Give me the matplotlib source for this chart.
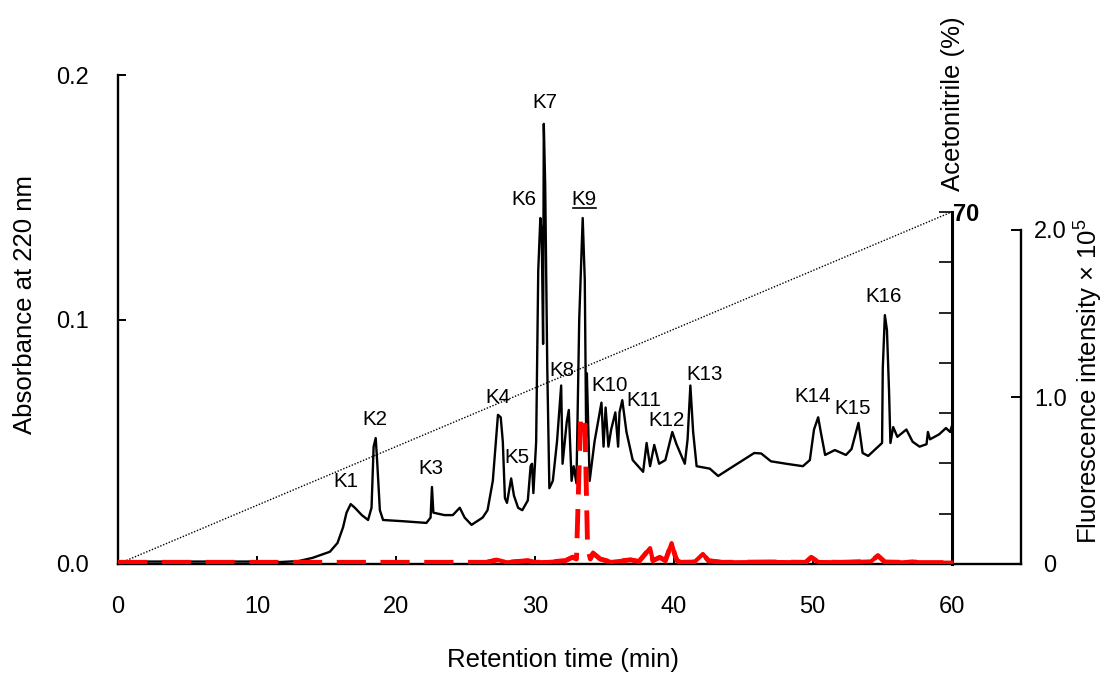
import numpy as np
import matplotlib
matplotlib.use("Agg")
import matplotlib.pyplot as plt
from matplotlib.lines import Line2D

plt.rcParams['font.family'] = ['Liberation Sans', 'DejaVu Sans']
plt.rcParams['mathtext.fontset'] = 'custom'
plt.rcParams['mathtext.rm'] = 'Liberation Sans'
plt.rcParams['mathtext.it'] = 'Liberation Sans:italic'

# ---------------- data ----------------
abs_time = [0, 5, 10, 11.65, 13.0, 14.0, 15.25, 15.8, 16.2, 16.45, 16.75, 17.05, 17.55, 18.0,
            18.25, 18.4, 18.55, 18.65, 18.85, 19.08, 20.5, 22.2, 22.5, 22.6, 22.7, 23.5, 24.1,
            24.6, 24.95, 25.45, 26.25, 26.6, 26.98, 27.2, 27.35, 27.55, 27.7, 27.85, 28.0, 28.3,
            28.5, 28.8, 29.1, 29.5, 29.7, 29.8, 29.9, 30.1,
            30.25, 30.4, 30.5, 30.6, 30.65, 30.75, 30.9, 31.05, 31.3, 31.6, 31.9, 32.0, 32.3,
            32.45, 32.65, 32.8, 33.0, 33.2, 33.45, 33.6, 33.7, 33.75, 33.95, 34.3, 34.8, 34.95,
            35.1, 35.3, 35.5, 35.8, 36.0, 36.1, 36.3, 36.6, 37.05, 37.8, 38.05, 38.3, 38.6,
            38.95, 39.4, 39.9, 40.2, 40.8, 41.0, 41.2, 41.4, 41.65, 42.6, 43.2, 44.3, 45.8,
            46.3, 47.0, 48.1, 49.3, 49.8, 50.1, 50.4, 50.6, 50.9, 51.6, 52.4, 52.8, 53.3, 53.6,
            54.0, 55.0, 55.05, 55.2, 55.35, 55.5, 55.6, 55.8, 56.1, 56.75, 57.2, 57.7, 58.2,
            58.3, 58.45, 59.1, 59.6, 59.9, 60]
abs_vals = [0.001, 0.001, 0.001, 0.0008, 0.0012, 0.0025, 0.005, 0.0086, 0.015, 0.021, 0.0245,
            0.023, 0.020, 0.018, 0.023, 0.048, 0.0515, 0.0425, 0.022, 0.018, 0.0175, 0.0168,
            0.019, 0.0315, 0.021, 0.020, 0.020, 0.023, 0.019, 0.016, 0.019, 0.022, 0.034, 0.050,
            0.061, 0.060, 0.050, 0.027, 0.025,
            0.035, 0.028, 0.023, 0.022, 0.026, 0.040, 0.041, 0.029, 0.050, 0.120, 0.1415, 0.135,
            0.090, 0.180, 0.155, 0.080, 0.031, 0.034, 0.050, 0.073, 0.041, 0.058, 0.063, 0.034,
            0.040, 0.033, 0.100, 0.1415, 0.116, 0.052, 0.078, 0.034, 0.050, 0.066, 0.048, 0.064,
            0.048, 0.055, 0.062, 0.048, 0.062, 0.067, 0.054, 0.0425, 0.0377, 0.0495, 0.040,
            0.0487, 0.041, 0.0425, 0.054, 0.049, 0.041, 0.051, 0.073, 0.054, 0.040, 0.039,
            0.036, 0.040, 0.0454, 0.0452, 0.042, 0.041, 0.040, 0.0425, 0.055, 0.060, 0.0536,
            0.0446, 0.0466, 0.0446, 0.047, 0.0577, 0.0454, 0.0442, 0.0495, 0.080, 0.1018,
            0.0957, 0.071, 0.0495, 0.056, 0.052, 0.055, 0.050, 0.048, 0.049, 0.054, 0.051,
            0.053, 0.0556, 0.054, 0.056]

fl_time = [0, 10, 20, 26.5, 27.3, 28.0, 29.5, 30.0, 31.0, 32.2, 32.7, 33.0, 33.3, 33.6, 33.8,
           34.0, 34.2, 34.7, 35.5, 36.9, 37.5, 38.3, 38.5, 39.0, 39.4, 39.85, 40.1, 40.25, 40.5,
           41.5, 42.1, 42.5, 43.5, 47.0, 49.5, 49.9, 50.4, 52.0, 54.2, 54.7, 55.2, 56.5, 57.2,
           57.6, 60]
fl_vals = [0.01, 0.01, 0.01, 0.01, 0.025, 0.01, 0.02, 0.01, 0.012, 0.02, 0.04, 0.03, 0.88, 0.88,
           0.10, 0.03, 0.065, 0.03, 0.012, 0.025, 0.015, 0.095, 0.02, 0.04, 0.02, 0.125, 0.05,
           0.02, 0.01, 0.012, 0.06, 0.02, 0.01, 0.012, 0.01, 0.04, 0.012, 0.01, 0.015, 0.05,
           0.012, 0.01, 0.015, 0.008, 0.008]

grad_time = [0, 60]
grad_acn = [0, 70]

peak_names = ['K1', 'K2', 'K3', 'K4', 'K5', 'K6', 'K7', 'K8', 'K9', 'K10', 'K11', 'K12',
              'K13', 'K14', 'K15', 'K16']
peak_label_t = [16.4, 18.5, 22.5, 27.34, 28.7, 29.24, 30.72, 31.98, 33.56, 35.4, 37.88, 39.46,
                42.2, 50.0, 52.9, 55.1]
peak_label_a = [0.0339, 0.0589, 0.0389, 0.068, 0.0436, 0.149, 0.1888, 0.0793, 0.149,
                0.073, 0.067, 0.0587, 0.0775, 0.0687, 0.0634, 0.1096]
underlined = ['K9']

x_ticks = [0, 10, 20, 30, 40, 50, 60]
y_ticks = [0.0, 0.1, 0.2]
y_ticklabels = ['0.0', '0.1', '0.2']
acn_ticks = [0, 10, 20, 30, 40, 50, 60, 70]
fl_ticks = [0, 1, 2]
fl_ticklabels = ['0', '1.0', '2.0']

# ---------------- figure ----------------
W, H = 1107, 678
fig = plt.figure(figsize=(W / 100, H / 100), dpi=100)
L, R, B, T = 118, 1021, 564, 75
ax = fig.add_axes([L / W, (H - B) / H, (R - L) / W, (B - T) / H])

TICK_FS = 17
LAB_FS = 18.5
K_FS = 14.8

ax.set_xlim(0, 65)
ax.set_ylim(0, 0.2)
for s in ['top', 'right']:
    ax.spines[s].set_visible(False)
for s in ['left', 'bottom']:
    ax.spines[s].set_linewidth(1.7)
ax.set_xticks(x_ticks)
ax.set_yticks(y_ticks)
ax.set_yticklabels(y_ticklabels)
ax.tick_params(axis='both', direction='in', length=6, width=1.4, labelsize=TICK_FS)
ax.tick_params(axis='x', pad=23)
ax.tick_params(axis='y', pad=21)

ax.plot(abs_time, abs_vals, color='black', lw=1.7, zorder=3)

ktexts = []
for name, t, a in zip(peak_names, peak_label_t, peak_label_a):
    tx = ax.text(t, a, name, ha='center', va='center', fontsize=K_FS, zorder=5)
    if name in underlined:
        ktexts.append(tx)

def px_ax(x, y):
    return (x - L) / (R - L), (B - y) / (B - T)

ax.text(*px_ax(563, 660), 'Retention time (min)', transform=ax.transAxes,
        ha='center', va='center', fontsize=LAB_FS)
ax.text(*px_ax(25, 304), 'Absorbance at 220 nm', transform=ax.transAxes, rotation=90,
        ha='center', va='center', fontsize=LAB_FS)

# acetonitrile axis
ax2 = ax.twinx()
ax2.set_ylim(0, 70 * (B - T) / (B - 212))
for s in ['top', 'left', 'bottom']:
    ax2.spines[s].set_visible(False)
ax2.spines['right'].set_position(('data', 60))
ax2.spines['right'].set_bounds(0, 70)
ax2.spines['right'].set_linewidth(2.2)
ax2.set_yticks(acn_ticks)
ax2.set_yticklabels(['' if v != 70 else '70' for v in acn_ticks])
ax2.tick_params(axis='y', direction='in', length=9.5, width=1.2, labelsize=TICK_FS, pad=1)
for lbl in ax2.get_yticklabels():
    lbl.set_fontweight('bold')
    lbl.set_verticalalignment('center_baseline')
ax2.plot(grad_time, grad_acn, color='black', lw=1.0, linestyle=(0, (1, 1.2)), zorder=2)
ax.text(*px_ax(953, 104), 'Acetonitrile (%)', transform=ax.transAxes, rotation=90,
        ha='center', va='center', fontsize=LAB_FS)

# fluorescence axis
ax3 = ax.twinx()
ax3.set_ylim(0, 2 * (B - T) / (B - 230))
for s in ['top', 'left', 'bottom']:
    ax3.spines[s].set_visible(False)
ax3.spines['right'].set_bounds(0, 2)
ax3.spines['right'].set_linewidth(1.7)
ax3.set_yticks(fl_ticks)
ax3.set_yticklabels(fl_ticklabels)
ax3.tick_params(axis='y', direction='in', length=7, width=1.4, labelsize=TICK_FS, pad=21)
for lbl in ax3.get_yticklabels():
    lbl.set_horizontalalignment('center')
ax.text(*px_ax(1089, 381), r'Fluorescence intensity × 10$^5$', transform=ax.transAxes,
        rotation=90, ha='center', va='center', fontsize=LAB_FS)

fl_t = np.array(fl_time)
fl_v = np.array(fl_vals)
ax3.plot(fl_t, fl_v, color='#ff0000', lw=3.5, linestyle=(0, (6, 3)), zorder=4)
solid = (fl_t >= 26.5) & ~((fl_t > 32.9) & (fl_t < 34.1))
seg = np.where(solid, fl_v, np.nan)
ax3.plot(fl_t, seg, color='#ff0000', lw=3.0, zorder=4)

# underline K9 using its rendered extent
fig.canvas.draw()
renderer = fig.canvas.get_renderer()
for tx in ktexts:
    bb = tx.get_window_extent(renderer)
    yline = bb.y0 + 1
    fig.add_artist(Line2D([bb.x0 + 1, bb.x1 - 1], [yline, yline], transform=None,
                          color='black', lw=1.2))

fig.savefig('out.png', dpi=100)
